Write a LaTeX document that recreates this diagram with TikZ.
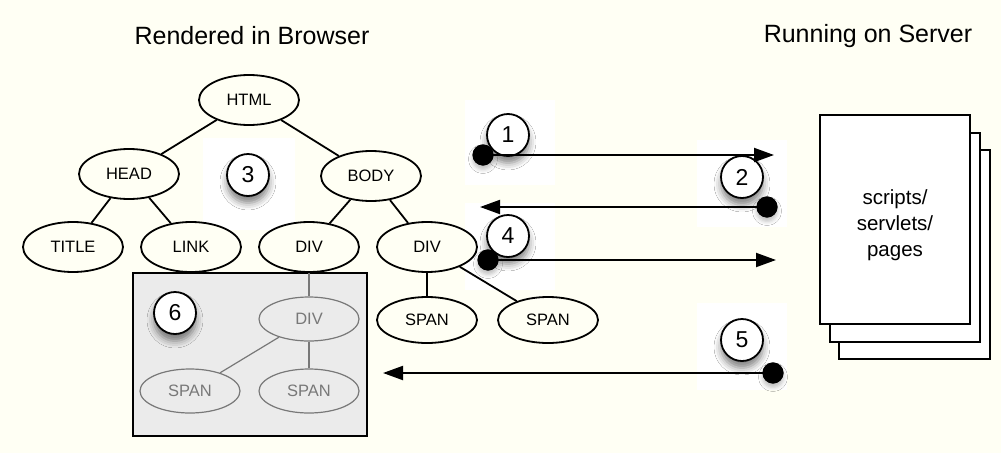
\documentclass[tikz,border=0pt]{standalone}
\usepackage{fontspec}
\setmainfont{Liberation Sans}
\usetikzlibrary{shapes.geometric,arrows.meta,shadows.blur}
\definecolor{bg}{RGB}{255,255,244}
\definecolor{boxgray}{RGB}{235,235,235}
\definecolor{ghost}{RGB}{120,120,120}
\begin{document}
\begin{tikzpicture}[x=1pt,y=-1pt,
  el/.style={ellipse, draw, line width=1.8pt, fill=bg, minimum width=100pt, minimum height=50pt, inner sep=0pt, font=\fontsize{16.5}{18}\selectfont},
  gel/.style={ellipse, draw=ghost, line width=1.2pt, text=ghost, minimum width=100pt, minimum height=44pt, inner sep=0pt, font=\fontsize{16.5}{18}\selectfont},
  edge/.style={line width=1.8pt},
  gedge/.style={line width=1.2pt, draw=ghost},
  num/.style={circle, draw, line width=1.8pt, fill=white, minimum size=42pt, inner sep=0pt, font=\fontsize{23}{25}\selectfont,
    blur shadow={shadow xshift=0pt, shadow yshift=-7pt, shadow blur radius=7pt, shadow opacity=50}},
  patch/.style={fill=white, draw=none},
  dot/.style={circle, fill=black, minimum size=21pt, inner sep=0pt,
    blur shadow={shadow xshift=0pt, shadow yshift=-4pt, shadow blur radius=4pt, shadow opacity=25}},
  msg/.style={line width=2pt, -{Triangle[length=20pt,width=14pt]}},
  title/.style={font=\fontsize{25}{27}\selectfont},
  page/.style={draw, line width=2pt, fill=white}
]
\path[fill=bg] (0,0) rectangle (1001,453);
\useasboundingbox (0,0) rectangle (1001,453);

% titles
\node[title] (tb) at (252,36) {Rendered in Browser};
\node[title] (ts) at (868,36) {Running on Server};

% white patches behind callouts
\fill[patch] (203,138) rectangle (295,230);
\fill[patch] (465,100) rectangle (555,185);
\fill[patch] (697,140) rectangle (787,227);
\fill[patch] (465,203) rectangle (555,290);
\fill[patch] (697,303) rectangle (787,390);

% grey box
\draw[line width=2pt, fill=boxgray] (133,273) rectangle (367,436);

% tree nodes
\node[el] (html) at (249,100) {HTML};
\node[el] (head) at (129,174) {HEAD};
\node[el] (body) at (371,176) {BODY};
\node[el] (title) at (73,247) {TITLE};
\node[el] (link) at (191,247) {LINK};
\node[el] (div1) at (309,247) {DIV};
\node[el] (div2) at (427,247) {DIV};
\node[el, minimum height=46pt] (span3) at (427,320) {SPAN};
\node[el, minimum height=46pt] (span4) at (548,320) {SPAN};
\node[gel] (gdiv) at (309,319) {DIV};
\node[gel] (gspan1) at (190,391) {SPAN};
\node[gel] (gspan2) at (309,391) {SPAN};

\draw[edge] (html) -- (head);
\draw[edge] (html) -- (body);
\draw[edge] (head) -- (title);
\draw[edge] (head) -- (link);
\draw[edge] (body) -- (div1);
\draw[edge] (body) -- (div2);
\draw[edge] (div2) -- (span3);
\draw[edge] (div2) -- (span4);
\draw[gedge] (div1) -- (gdiv);
\draw[gedge] (gdiv) -- (gspan1);
\draw[gedge] (gdiv) -- (gspan2);

% server pages
\draw[page] (839,150) rectangle (990,359);
\draw[page] (830,133) rectangle (980,342);
\draw[page] (820,115) rectangle (970,324);
\node[align=center, font=\fontsize{20.5}{26}\selectfont] (pages) at (895,225) {scripts/\\servlets/\\pages};

% callout numbers
\node[num] (n3) at (248,175) {3};
\node[num] (n6) at (175,313) {6};
\node[num] (n1) at (508,135) {1};
\node[num] (n2) at (742,177) {2};
\node[num] (n4) at (508,236) {4};
\node[num] (n5) at (742,340) {5};

% message arrows
\node[dot] (d1) at (483,155) {};
\node[dot] (d2) at (767,207) {};
\node[dot] (d4) at (488,260) {};
\node[dot] (d5) at (773,373) {};
\coordinate (t1) at (774,155);
\coordinate (t2) at (480,207);
\coordinate (t4) at (776,260);
\coordinate (t5) at (383,373);
\draw[msg] (d1.center) -- (t1);
\draw[msg] (d2.center) -- (t2);
\draw[msg] (d4.center) -- (t4);
\draw[msg] (d5.center) -- (t5);
\fill (d1) circle (10.5pt);
\fill (d2) circle (10.5pt);
\fill (d4) circle (10.5pt);
\fill (d5) circle (10.5pt);
\end{tikzpicture}
\end{document}
